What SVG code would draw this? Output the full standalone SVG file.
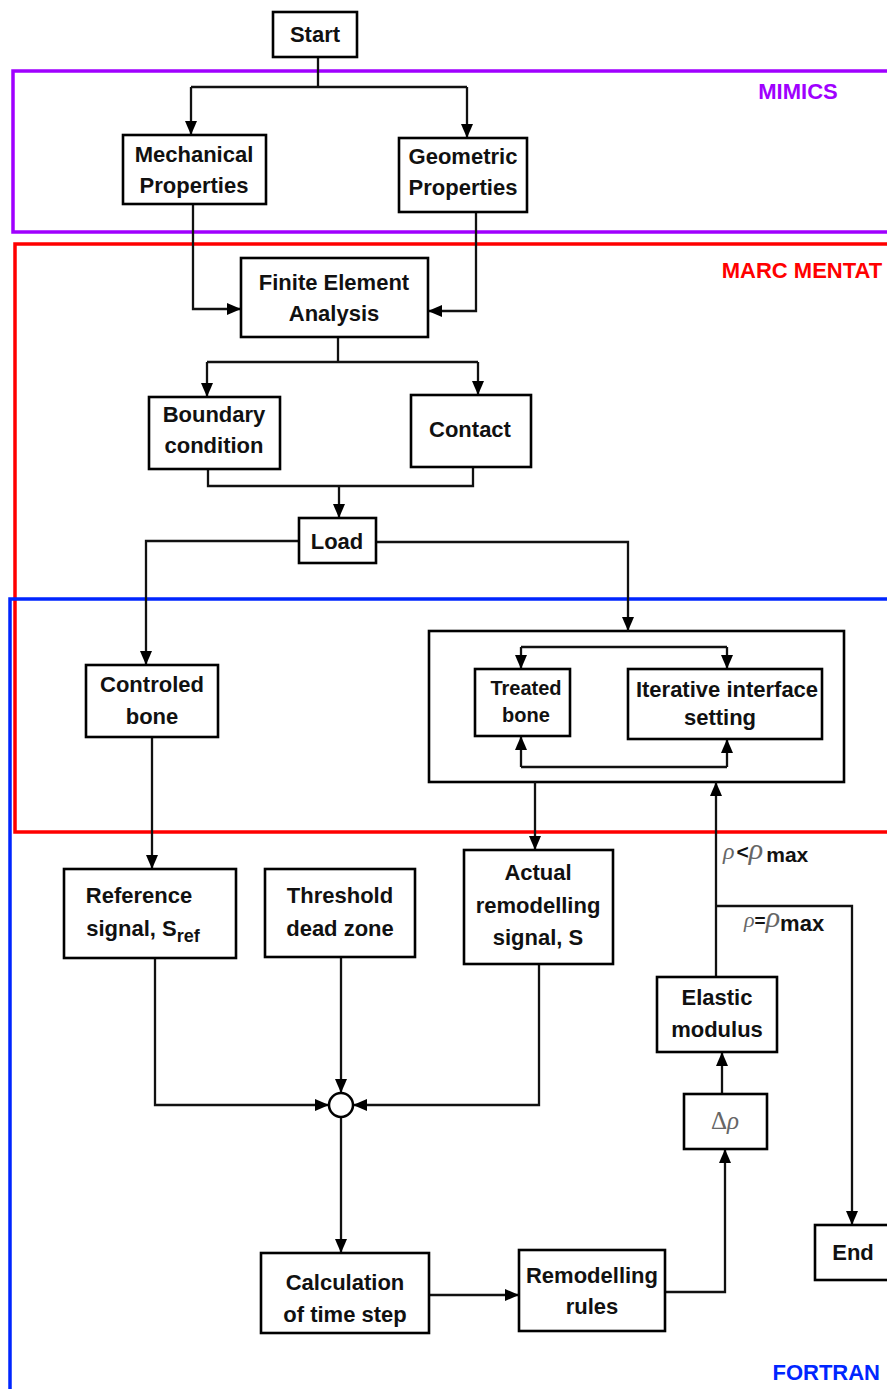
<svg xmlns="http://www.w3.org/2000/svg" width="887" height="1389" viewBox="0 0 887 1389">
<style>
.box{fill:#fff;stroke:#000;stroke-width:2.6}
.t{font-family:"Liberation Sans",Arial,sans-serif;font-weight:bold;font-size:22px;fill:#111;text-anchor:middle}
.ts{font-size:20px}
.c{fill:none;stroke:#111;stroke-width:2.3}
.frame{fill:none;stroke-width:3.5}
.lab{font-family:"Liberation Sans",Arial,sans-serif;font-weight:bold;font-size:22px}
.g{font-family:"Liberation Serif","Times New Roman",serif;font-style:italic;fill:#666}
.m{font-family:"Liberation Sans",Arial,sans-serif;font-weight:bold;fill:#111}
</style>
<defs>
<marker id="ah" markerUnits="userSpaceOnUse" markerWidth="14" markerHeight="14" viewBox="0 0 14 14" refX="14" refY="7" orient="auto">
<path d="M0,1 L14,7 L0,13 Z" fill="#000"/>
</marker>
</defs>
<rect width="887" height="1389" fill="#fff"/>
<g id="frames">
<rect class="frame" x="13" y="71" width="890" height="161" stroke="#a000ff"/>
<rect class="frame" x="15" y="244" width="890" height="588" stroke="#ff0000"/>
<rect class="frame" x="10" y="599" width="890" height="810" stroke="#0026ff"/>
<text class="lab" x="798" y="99" fill="#a000ff" text-anchor="middle">MIMICS</text>
<text class="lab" x="802" y="278" fill="#ff0000" text-anchor="middle">MARC MENTAT</text>
<text class="lab" x="880" y="1380" fill="#0026ff" font-size="20" text-anchor="end">FORTRAN</text>
</g>
<g id="treatment"><rect x="429" y="631" width="415" height="151" fill="#fff" stroke="#000" stroke-width="2.6"/></g>
<g id="connectors">
<path class="c" d="M318,57 V87"/>
<path class="c" d="M191,87 H467"/>
<path class="c" d="M191,87 V135" marker-end="url(#ah)"/>
<path class="c" d="M467,87 V138" marker-end="url(#ah)"/>
<path class="c" d="M193,204 V309 H241" marker-end="url(#ah)"/>
<path class="c" d="M476,212 V311 H428" marker-end="url(#ah)"/>
<path class="c" d="M338,337 V362"/>
<path class="c" d="M207,362 H478"/>
<path class="c" d="M207,362 V397" marker-end="url(#ah)"/>
<path class="c" d="M478,362 V395" marker-end="url(#ah)"/>
<path class="c" d="M208,469 V486 H473 V467"/>
<path class="c" d="M339,486 V518" marker-end="url(#ah)"/>
<path class="c" d="M299,541 H146 V665" marker-end="url(#ah)"/>
<path class="c" d="M376,542 H628 V631" marker-end="url(#ah)"/>
<path class="c" d="M521,647 H727"/>
<path class="c" d="M521,647 V669" marker-end="url(#ah)"/>
<path class="c" d="M727,647 V669" marker-end="url(#ah)"/>
<path class="c" d="M521,767 H727"/>
<path class="c" d="M521,767 V736" marker-end="url(#ah)"/>
<path class="c" d="M727,767 V739" marker-end="url(#ah)"/>
<path class="c" d="M535,782 V850" marker-end="url(#ah)"/>
<path class="c" d="M152,737 V869" marker-end="url(#ah)"/>
<path class="c" d="M155,958 V1105 H329" marker-end="url(#ah)"/>
<path class="c" d="M341,957 V1093" marker-end="url(#ah)"/>
<path class="c" d="M539,964 V1105 H353" marker-end="url(#ah)"/>
<path class="c" d="M341,1117 V1253" marker-end="url(#ah)"/>
<path class="c" d="M429,1295 H519" marker-end="url(#ah)"/>
<path class="c" d="M665,1292 H725 V1149" marker-end="url(#ah)"/>
<path class="c" d="M722,1094 V1052" marker-end="url(#ah)"/>
<path class="c" d="M716,977 V782" marker-end="url(#ah)"/>
<path class="c" d="M716,906 H852 V1225" marker-end="url(#ah)"/>
<text x="723" y="859"><tspan class="g" font-size="24">ρ</tspan><tspan class="m" font-size="21" dx="2">&lt;</tspan><tspan class="g" font-size="30">ρ</tspan><tspan class="m" font-size="21" dx="3" dy="3">max</tspan></text>
<text x="744" y="927"><tspan class="g" font-size="22">ρ</tspan><tspan class="m" font-size="19">=</tspan><tspan class="g" font-size="30">ρ</tspan><tspan class="m" font-size="22" dy="4">max</tspan></text>
</g>
<g id="start"><rect class="box" x="273" y="12" width="84" height="45"/><text class="t" x="315" y="42">Start</text></g>
<g id="mechanical"><rect class="box" x="123" y="135" width="143" height="69"/><text class="t" x="194" y="162">Mechanical</text><text class="t" x="194" y="193">Properties</text></g>
<g id="geometric"><rect class="box" x="399" y="138" width="128" height="74"/><text class="t" x="463" y="164">Geometric</text><text class="t" x="463" y="195">Properties</text></g>
<g id="fea"><rect class="box" x="241" y="258" width="187" height="79"/><text class="t" x="334" y="290">Finite Element</text><text class="t" x="334" y="321">Analysis</text></g>
<g id="boundary"><rect class="box" x="149" y="397" width="131" height="72"/><text class="t" x="214" y="422">Boundary</text><text class="t" x="214" y="453">condition</text></g>
<g id="contact"><rect class="box" x="411" y="395" width="120" height="72"/><text class="t" x="470" y="437">Contact</text></g>
<g id="load"><rect class="box" x="299" y="518" width="77" height="45"/><text class="t" x="337" y="549">Load</text></g>
<g id="controled"><rect class="box" x="86" y="665" width="132" height="72"/><text class="t" x="152" y="692">Controled</text><text class="t" x="152" y="724">bone</text></g>
<g id="treated"><rect class="box" x="475" y="669" width="95" height="67"/><text class="t ts" x="526" y="695">Treated</text><text class="t ts" x="526" y="722">bone</text></g>
<g id="iterative"><rect class="box" x="628" y="669" width="194" height="70"/><text class="t" x="727" y="697" font-size="20.5">Iterative interface</text><text class="t" x="720" y="725" font-size="20.5">setting</text></g>
<g id="reference"><rect class="box" x="64" y="869" width="172" height="89"/><text class="t" x="139" y="903">Reference</text><text class="t" x="143" y="936">signal, S<tspan font-size="18" dy="6">ref</tspan></text></g>
<g id="threshold"><rect class="box" x="265" y="869" width="150" height="88"/><text class="t" x="340" y="903">Threshold</text><text class="t" x="340" y="936">dead zone</text></g>
<g id="actual"><rect class="box" x="464" y="850" width="149" height="114"/><text class="t" x="538" y="880">Actual</text><text class="t" x="538" y="913">remodelling</text><text class="t" x="538" y="945">signal, S</text></g>
<g id="elastic"><rect class="box" x="657" y="977" width="120" height="75"/><text class="t" x="717" y="1005">Elastic</text><text class="t" x="717" y="1037">modulus</text></g>
<g id="drho"><rect class="box" x="684" y="1094" width="83" height="55"/><text x="725" y="1129" text-anchor="middle" font-size="25" fill="#666" font-family="Liberation Serif,serif">Δ<tspan font-style="italic">ρ</tspan></text></g>
<g id="sum"><circle cx="341" cy="1105" r="12" fill="#fff" stroke="#000" stroke-width="2.5"/></g>
<g id="calc"><rect class="box" x="261" y="1253" width="168" height="80"/><text class="t" x="345" y="1290">Calculation</text><text class="t" x="345" y="1322">of time step</text></g>
<g id="rules"><rect class="box" x="519" y="1250" width="146" height="81"/><text class="t" x="592" y="1283">Remodelling</text><text class="t" x="592" y="1314">rules</text></g>
<g id="end"><rect class="box" x="815" y="1225" width="90" height="55"/><text class="t" x="853" y="1260">End</text></g>
</svg>
